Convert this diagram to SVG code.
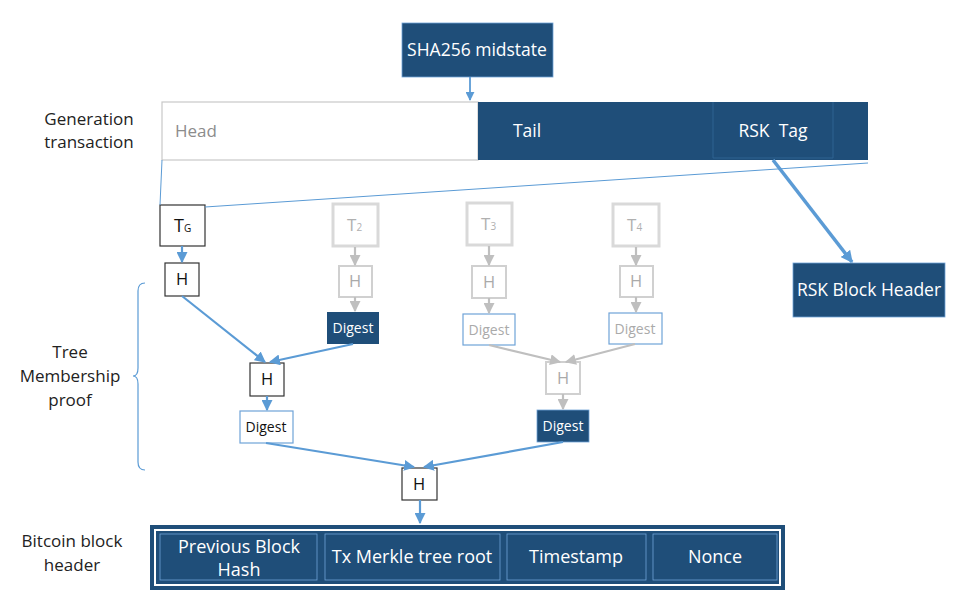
<svg xmlns="http://www.w3.org/2000/svg" width="957" height="597" viewBox="0 0 957 597">
<defs>
<style>
text{font-family:"Open Sans","Liberation Sans",sans-serif}
.lbl{font-size:17px;fill:#222;text-anchor:middle}
.dark{fill:#1F4E79}
.wt{fill:#fff;font-size:17.5px;text-anchor:middle}
.blk{fill:#fff;stroke:#333;stroke-width:1.2}
.gry{fill:#fff;stroke:#d0d0d0;stroke-width:2}
.gryt{fill:#fff;stroke:#d9d9d9;stroke-width:3}
.wbl{fill:#fff;stroke:#6fa3d8;stroke-width:1.2}
.ht{font-size:16.5px;text-anchor:middle;fill:#111}
.hg{font-size:16.5px;text-anchor:middle;fill:#aaa}
.dg{font-size:14px;text-anchor:middle}
.cb{stroke:#5B9BD5;stroke-width:2.2;fill:none}
.cg{stroke:#bfbfbf;stroke-width:2.2;fill:none}
</style>
<marker id="ab" viewBox="0 0 10 10" refX="9" refY="5" markerWidth="5" markerHeight="5" orient="auto"><path d="M0,0 L10,5 L0,10 z" fill="#5B9BD5"/></marker>
<marker id="abt" viewBox="0 0 10 10" refX="9" refY="5" markerWidth="12" markerHeight="12" markerUnits="userSpaceOnUse" orient="auto"><path d="M0,0 L10,5 L0,10 z" fill="#5B9BD5"/></marker>
<marker id="ag" viewBox="0 0 10 10" refX="9" refY="5" markerWidth="5" markerHeight="5" orient="auto"><path d="M0,0 L10,5 L0,10 z" fill="#bfbfbf"/></marker>
</defs>

<g id="labels">
<text class="lbl" x="89" y="125">Generation</text>
<text class="lbl" x="89" y="148">transaction</text>
<text class="lbl" x="70" y="358">Tree</text>
<text class="lbl" x="70" y="382">Membership</text>
<text class="lbl" x="70" y="406">proof</text>
<text class="lbl" x="72" y="547">Bitcoin block</text>
<text class="lbl" x="72" y="571">header</text>
<path d="M145,283 Q138,283 138,291 L138,368 Q138,376 133,376 Q138,376 138,384 L138,462 Q138,470 145,470" fill="none" stroke="#5B9BD5" stroke-width="1.2"/>
</g>

<g id="sha">
<rect class="dark" x="402" y="23" width="151" height="54" stroke="#6fa3d8" stroke-width="0.8"/>
<text class="wt" x="477" y="56">SHA256 midstate</text>
</g>

<g id="gentx">
<rect x="162" y="102" width="316" height="58" fill="#fff" stroke="#c8c8c8" stroke-width="1.2"/>
<text x="175" y="137" font-size="17px" fill="#8c8c8c">Head</text>
<rect class="dark" x="478" y="102" width="390" height="58"/>
<path d="M713,102 L713,158 L833,158 L833,102" fill="none" stroke="#2f6292" stroke-width="1"/>
<text class="wt" x="527" y="137">Tail</text>
<text class="wt" x="773" y="137" xml:space="preserve">RSK  Tag</text>
</g>

<g id="rskheader">
<rect class="dark" x="793" y="263" width="152" height="54" stroke="#6fa3d8" stroke-width="0.8"/>
<text class="wt" x="869" y="296">RSK Block Header</text>
</g>

<g id="tg">
<rect class="blk" x="160" y="205" width="45" height="41"/>
<text x="174" y="232" font-size="18px" fill="#111">T<tspan font-size="10px">G</tspan></text>
</g>
<g id="h1"><rect class="blk" x="165" y="263" width="34" height="33"/><text class="ht" x="182" y="285">H</text></g>

<g id="t2"><rect class="gryt" x="333" y="204" width="45" height="42"/><text x="347" y="231" font-size="17px" fill="#b0b0b0">T<tspan font-size="10px">2</tspan></text></g>
<g id="h2"><rect class="gry" x="339" y="266" width="33" height="31"/><text class="hg" x="355" y="287">H</text></g>
<g id="d2"><rect class="dark" x="327" y="312" width="52" height="32"/><text class="dg" x="353" y="333" fill="#fff">Digest</text></g>

<g id="t3"><rect class="gryt" x="467" y="203" width="45" height="42"/><text x="481" y="230" font-size="17px" fill="#b0b0b0">T<tspan font-size="10px">3</tspan></text></g>
<g id="h3"><rect class="gry" x="472" y="266" width="34" height="32"/><text class="hg" x="489" y="288">H</text></g>
<g id="d3"><rect class="wbl" x="463" y="314" width="52" height="31"/><text class="dg" x="489" y="335" fill="#aaa">Digest</text></g>

<g id="t4"><rect class="gryt" x="613" y="204" width="46" height="42"/><text x="627" y="231" font-size="17px" fill="#b0b0b0">T<tspan font-size="10px">4</tspan></text></g>
<g id="h4"><rect class="gry" x="620" y="266" width="33" height="31"/><text class="hg" x="636" y="287">H</text></g>
<g id="d4"><rect class="wbl" x="609" y="313" width="53" height="31"/><text class="dg" x="635" y="334" fill="#aaa">Digest</text></g>

<g id="hmid"><rect class="gry" x="546" y="362" width="34" height="32"/><text class="hg" x="563" y="384">H</text></g>
<g id="dmid"><rect class="dark" x="537" y="410" width="52" height="32" stroke="#6fa3d8" stroke-width="0.8"/><text class="dg" x="563" y="431" fill="#fff">Digest</text></g>

<g id="hleft"><rect class="blk" x="250" y="363" width="34" height="33"/><text class="ht" x="267" y="385">H</text></g>
<g id="dleft"><rect class="wbl" x="240" y="411" width="53" height="32"/><text class="dg" x="266" y="432" fill="#111">Digest</text></g>

<g id="hroot"><rect class="blk" x="402" y="468" width="35" height="32"/><text class="ht" x="419" y="490">H</text></g>

<g id="btcheader">
<rect class="dark" x="150" y="525" width="635" height="65"/>
<rect x="155" y="530" width="625" height="55" fill="none" stroke="#fff" stroke-width="2"/>
<rect class="dark" x="160" y="534" width="157" height="46" stroke="#6fa3d8" stroke-width="0.8"/>
<text class="wt" x="239" y="553" style="font-size:18px">Previous Block</text>
<text class="wt" x="239" y="576" style="font-size:18px">Hash</text>
<rect class="dark" x="325" y="534" width="175" height="46" stroke="#6fa3d8" stroke-width="0.8"/>
<text class="wt" x="412" y="563" style="font-size:18px">Tx Merkle tree root</text>
<rect class="dark" x="507" y="534" width="139" height="46" stroke="#6fa3d8" stroke-width="0.8"/>
<text class="wt" x="576" y="563" style="font-size:18px">Timestamp</text>
<rect class="dark" x="653" y="534" width="124" height="46" stroke="#6fa3d8" stroke-width="0.8"/>
<text class="wt" x="715" y="563" style="font-size:18px">Nonce</text>
</g>

<g id="connectors">
<line x1="470" y1="77" x2="470" y2="100" class="cb" style="stroke-width:1.8" marker-end="url(#ab)"/>
<line x1="162" y1="160" x2="160" y2="205" stroke="#5B9BD5" stroke-width="1"/>
<line x1="868" y1="163" x2="205" y2="207" stroke="#5B9BD5" stroke-width="1"/>
<line x1="773" y1="160" x2="852" y2="262" class="cb" style="stroke-width:3.5" marker-end="url(#abt)"/>
<line x1="182" y1="246" x2="182" y2="262" class="cb" marker-end="url(#ab)"/>
<line x1="182" y1="296" x2="265" y2="362" class="cb" marker-end="url(#ab)"/>
<line x1="353" y1="344" x2="270" y2="362" class="cb" marker-end="url(#ab)"/>
<line x1="267" y1="396" x2="267" y2="410" class="cb" marker-end="url(#ab)"/>
<line x1="266" y1="443" x2="414" y2="467" class="cb" marker-end="url(#ab)"/>
<line x1="563" y1="442" x2="424" y2="467" class="cb" marker-end="url(#ab)"/>
<line x1="420" y1="500" x2="420" y2="523" class="cb" marker-end="url(#ab)"/>
<line x1="355" y1="247" x2="355" y2="265" class="cg" marker-end="url(#ag)"/>
<line x1="355" y1="297" x2="355" y2="311" class="cg" marker-end="url(#ag)"/>
<line x1="489" y1="246" x2="489" y2="265" class="cg" marker-end="url(#ag)"/>
<line x1="489" y1="298" x2="489" y2="313" class="cg" marker-end="url(#ag)"/>
<line x1="636" y1="247" x2="636" y2="265" class="cg" marker-end="url(#ag)"/>
<line x1="636" y1="297" x2="636" y2="312" class="cg" marker-end="url(#ag)"/>
<line x1="489" y1="345" x2="560" y2="362" class="cg" marker-end="url(#ag)"/>
<line x1="635" y1="344" x2="566" y2="362" class="cg" marker-end="url(#ag)"/>
<line x1="563" y1="394" x2="563" y2="409" class="cg" marker-end="url(#ag)"/>
</g>
</svg>
